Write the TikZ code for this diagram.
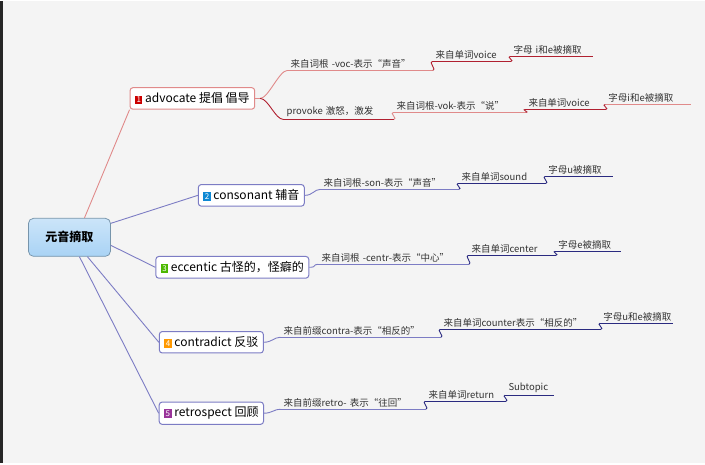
\documentclass[tikz,border=0pt]{standalone}
\usepackage{fontspec}
\setmainfont{Noto Sans CJK SC}
\usetikzlibrary{positioning}
\definecolor{bgc}{HTML}{F4F4F4}
\definecolor{redl}{HTML}{E08A8A}
\definecolor{redd}{HTML}{B02030}
\definecolor{bluel}{HTML}{7C7CC4}
\definecolor{blued}{HTML}{2A2A80}
\definecolor{topc}{HTML}{A9D3F5}
\newcommand{\badge}[2]{{\setlength{\fboxsep}{1.5pt}\colorbox{#1}{\footnotesize\textcolor{white}{#2}}}}
\tikzset{every picture/.style={line width=0.75pt}}

\begin{document}
\begin{tikzpicture}[x=1pt,y=-1pt]

     \tikzstyle{main} = [rounded corners=3pt, fill=white, draw=#1, line width=1pt,
                        inner xsep=5pt, inner ysep=5pt, font=\fontsize{12}{14}\selectfont]
     \tikzstyle{sub} = [inner xsep=3pt, inner ysep=2pt, anchor=south west,
                        font=\fontsize{9.5}{11}\selectfont, text=black!80]
     \tikzstyle{conn} = [draw=#1, line width=0.9pt]

\fill[bgc] (0,0) rectangle (705,462);
\draw[black!85, line width=3pt] (1,0) -- (1,462);
\useasboundingbox (0,0) rectangle (705,462);

% central topic
\node [rounded corners=5pt, top color=topc!60, bottom color=topc, draw=topc!70!black,
       minimum width=82pt, minimum height=38pt, font=\bfseries\fontsize{12}{14}\selectfont]
       (root) at (69,236) {元音摘取};

% main topics
\node [main=redl] (m1) at (192,97) {\badge{red!80!black}{1} advocate 提倡 倡导};
\node [main=bluel] (m2) at (251,194) {\badge{cyan!70!blue}{2} consonant 辅音};
\node [main=bluel] (m3) at (232,266) {\badge{green!60!black!70!yellow}{3} eccentic 古怪的，怪癖的};
\node [main=bluel] (m4) at (211,341) {\badge{orange!80!yellow}{4} contradict 反驳};
\node [main=bluel] (m5) at (211,412) {\badge{violet!80}{5} retrospect 回顾};

\draw[conn=redl] (root.north) ++(15,0) coordinate (r1) -- (m1.south west);
\draw[conn=bluel] (root.east) ++(0,-14) coordinate (r2) -- (m2.west);
\draw[conn=bluel] (root.east) ++(0,8) coordinate (r3) -- (m3.west);
\draw[conn=bluel] (root.south) ++(18,0) coordinate (r4) -- (m4.west);
\draw[conn=bluel] (root.south) ++(10,0) coordinate (r5) -- (m5.west);

% branch 1
\node [sub, text width=139pt] (a1) at (287,69) {来自词根 -voc-表示“声音”};
\node [sub, text width=72pt] (a2) at (432,60) {来自单词voice};
\node [sub, text width=76pt] (a3) at (510,55) {字母 i和e被摘取};
\node [sub, text width=104pt] (b1) at (283,118) {provoke 激怒，激发};
\node [sub, text width=126pt] (b2) at (393,111) {来自词根-vok-表示“说”};
\node [sub, text width=74pt] (b3) at (525,108) {来自单词voice};
\node [sub, text width=79pt] (b4) at (605,103) {字母i和e被摘取};

% branch 2
\node [sub, text width=132pt] (c1) at (320,188) {来自词根-son-表示“声音”};
\node [sub, text width=81pt] (c2) at (458,182) {来自单词sound};
\node [sub, text width=61pt] (c3) at (545,175) {字母u被摘取};

% branch 3
\node [sub, text width=144pt] (d1) at (318,263) {来自词根 -centr-表示“中心”};
\node [sub, text width=81pt] (d2) at (468,254) {来自单词center};
\node [sub, text width=59pt] (d3) at (555,250) {字母e被摘取};

% branch 4
\node [sub, text width=154pt] (e1) at (280,336) {来自前缀contra-表示“相反的”};
\node [sub, text width=154pt] (e2) at (440,328) {来自单词counter表示“相反的”};
\node [sub, text width=66pt] (e3) at (600,322) {字母u和e被摘取};

% branch 5
\node [sub, text width=139pt] (f1) at (280,408) {来自前缀retro- 表示“往回”};
\node [sub, text width=74pt] (f2) at (425,400) {来自单词return};
\node [sub, text width=42pt] (f3) at (505,394) {Subtopic};

% underlines
\foreach \n in {c1,d1,e1,f1} \draw[conn=bluel] (\n.south west) -- (\n.south east);
\draw[conn=redl] (a1.south west) -- (a1.south east) (b2.south west) -- (b2.south east);
\draw[conn=redl] (b4.south west) -- (b4.south east);
\draw[conn=redd] (a2.south west) -- (a2.south east) (a3.south west) -- (a3.south east)
                 (b1.south west) -- (b1.south east) (b3.south west) -- (b3.south east);
\foreach \n in {c2,c3,d2,d3,e2,e3,f2,f3} \draw[conn=blued] (\n.south west) -- (\n.south east);

% connectors
\draw[conn=redl] (m1.east) -- ++(5,0) coordinate (k1);
\draw[conn=redl] (k1) .. controls +(8,0) and +(-8,0) .. (a1.south west);
\draw[conn=redd] (k1) .. controls +(8,0) and +(-8,0) .. (b1.south west);
\draw[conn=redd] (a1.south east) .. controls +(4,0) and +(-4,0) .. (a2.south west);
\draw[conn=redd] (a2.south east) .. controls +(4,0) and +(-4,0) .. (a3.south west);
\draw[conn=redl] (b1.south east) .. controls +(4,0) and +(-4,0) .. (b2.south west);
\draw[conn=redd] (b2.south east) .. controls +(4,0) and +(-4,0) .. (b3.south west);
\draw[conn=redd] (b3.south east) .. controls +(4,0) and +(-4,0) .. (b4.south west);
\foreach \m/\s in {m2/c1,m3/d1,m4/e1,m5/f1}
  \draw[conn=bluel] (\m.east) .. controls +(8,0) and +(-6,0) .. (\s.south west);
\foreach \s/\t in {c1/c2,c2/c3,d1/d2,d2/d3,e1/e2,e2/e3,f1/f2,f2/f3}
  \draw[conn=blued] (\s.south east) .. controls +(4,0) and +(-4,0) .. (\t.south west);

\end{tikzpicture}
\end{document}
